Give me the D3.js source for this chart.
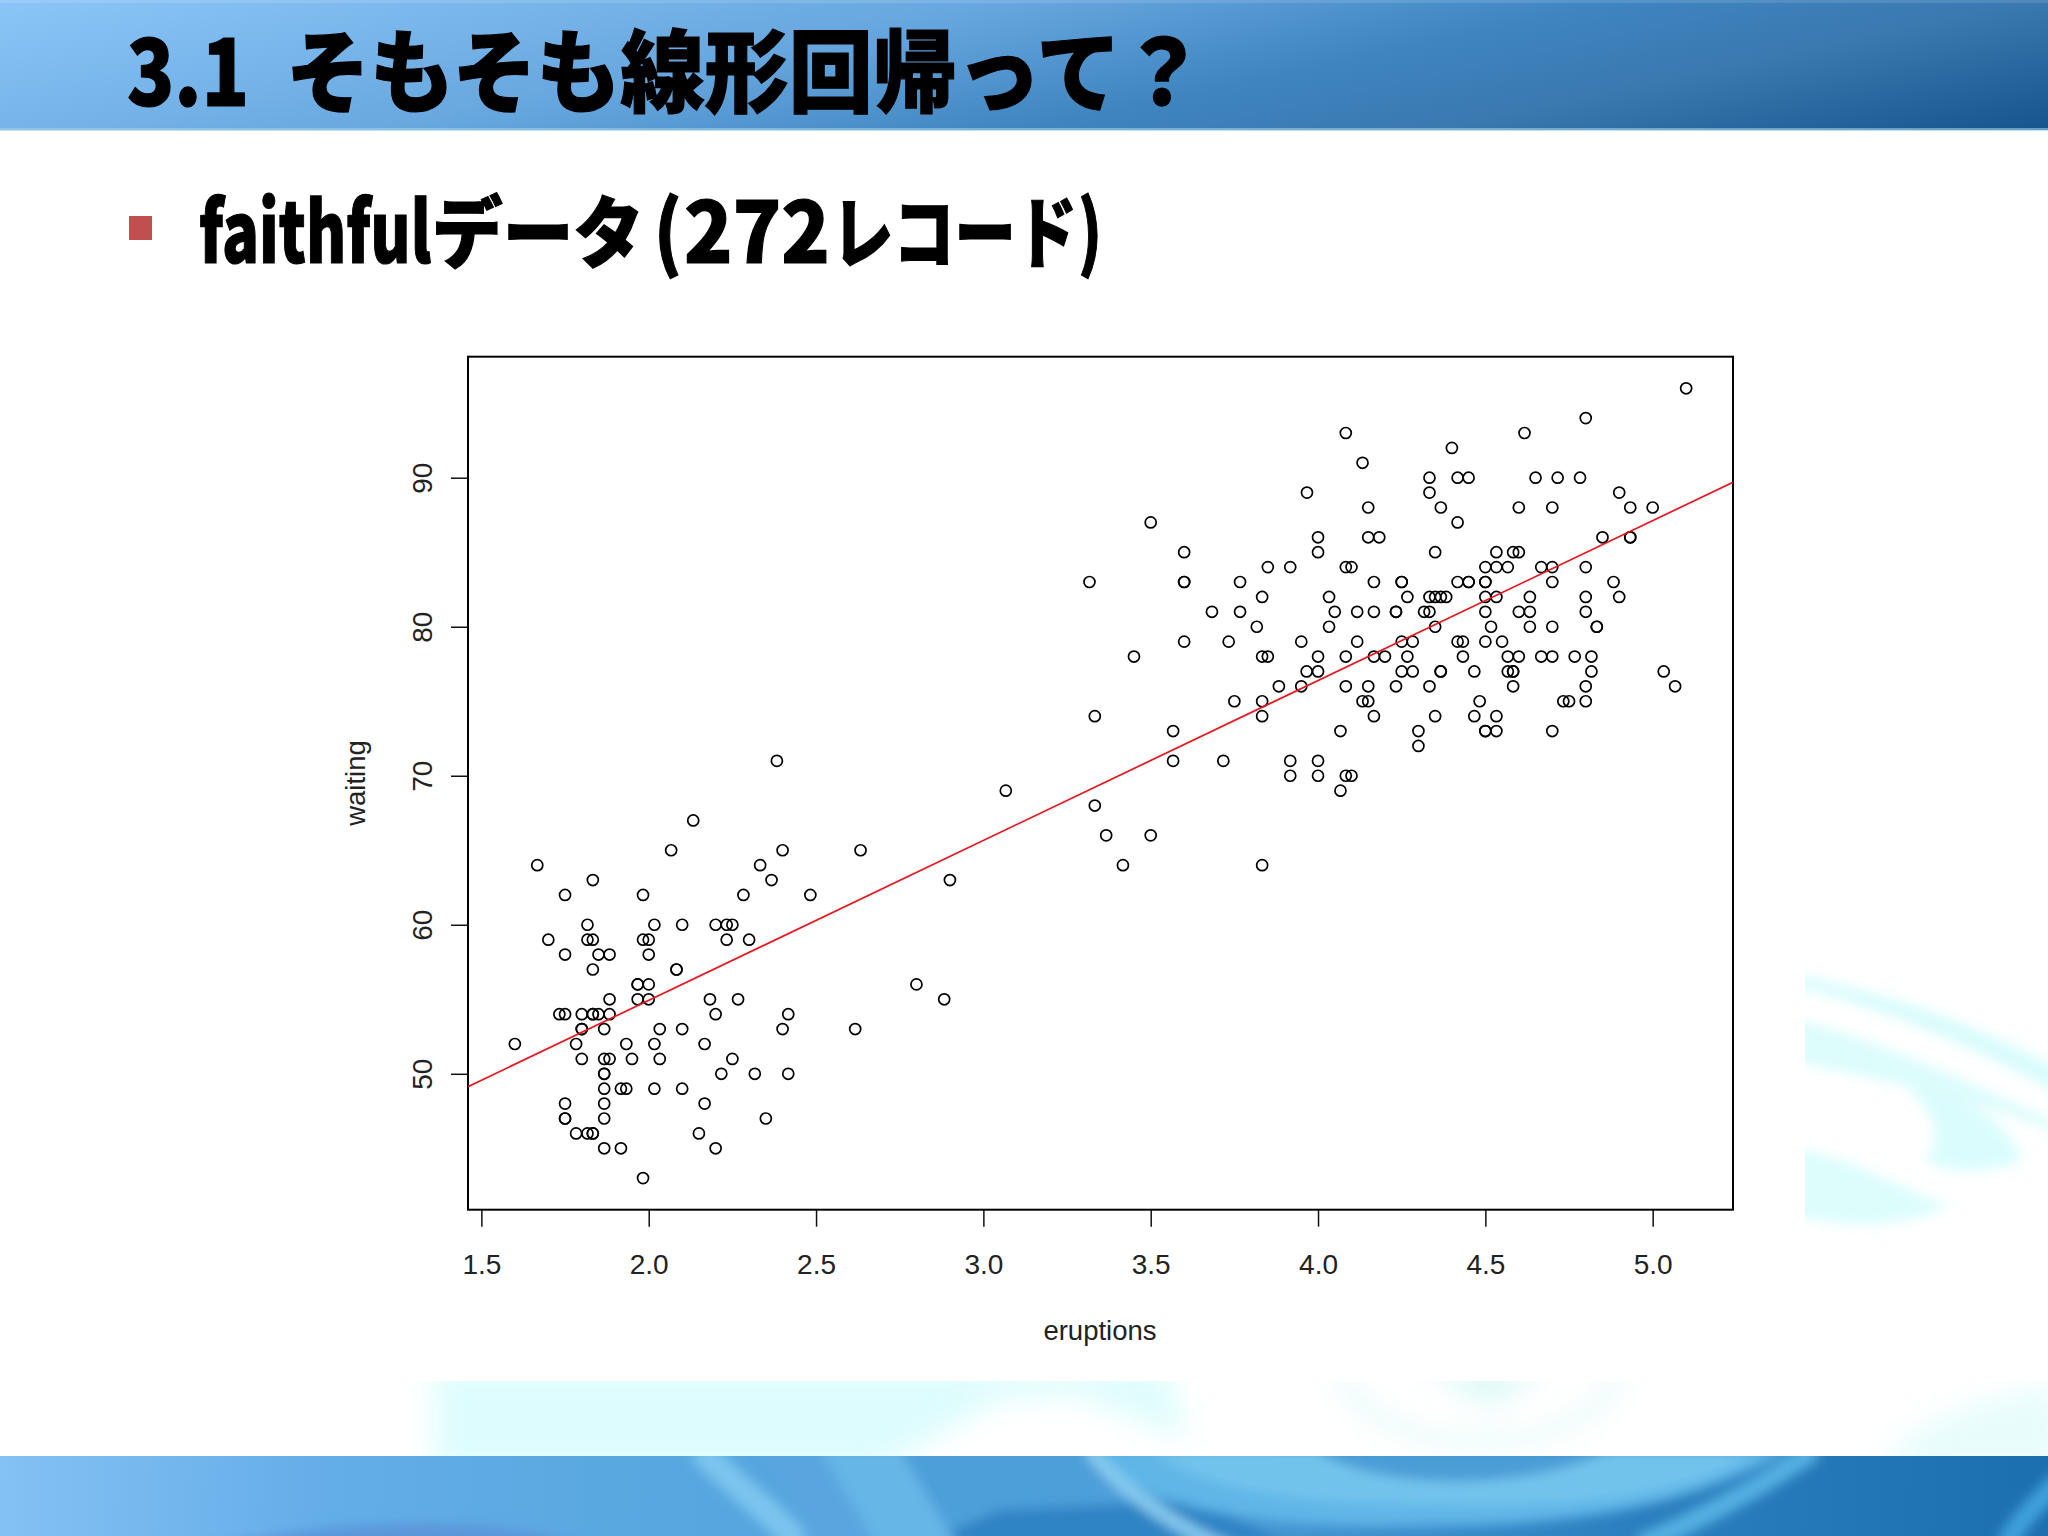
<!DOCTYPE html>
<html lang="ja">
<head>
  <meta charset="utf-8" />
  <title>faithful</title>
  <style>
    html, body { margin: 0; padding: 0; background: #fff; }
    svg { display: block; }
    .slide-text { font-family: "Noto Sans CJK JP", sans-serif; font-weight: 900; fill: #000; stroke: #000; stroke-width: 1.2px; }
    .axis text, .axis-label { font-family: "Liberation Sans", Arial, sans-serif; fill: #222; }
  </style>
</head>
<body>
<script src="https://cdn.jsdelivr.net/npm/d3@7"></script>
<script>
  const eruptions = [3.600,1.800,3.333,2.283,4.533,2.883,4.700,3.600,1.950,4.350,1.833,3.917,4.200,1.750,4.700,2.167,1.750,4.800,1.600,4.250,1.800,1.750,3.450,3.067,4.533,3.600,1.967,4.083,3.850,4.433,4.300,4.467,3.367,4.033,3.833,2.017,1.867,4.833,1.833,4.783,4.350,1.883,4.567,1.750,4.533,3.317,3.833,2.100,4.633,2.000,4.800,4.716,1.833,4.833,1.733,4.883,3.717,1.667,4.567,4.317,2.233,4.500,1.750,4.800,1.817,4.400,4.167,4.700,2.067,4.700,4.033,1.967,4.500,4.000,1.983,5.067,2.017,4.567,3.883,3.600,4.133,4.333,4.100,2.633,4.067,4.933,3.950,4.517,2.167,4.000,2.200,4.333,1.867,4.817,1.833,4.300,4.667,3.750,1.867,4.900,2.483,4.367,2.100,4.500,4.050,1.867,4.700,1.783,4.850,3.683,4.733,2.300,4.900,4.417,1.700,4.633,2.317,4.600,1.817,4.417,2.617,4.067,4.250,1.967,4.600,3.767,1.917,4.500,2.267,4.650,1.867,4.167,2.800,4.333,1.833,4.383,1.883,4.933,2.033,3.733,4.233,2.233,4.533,4.817,4.333,1.983,4.633,2.017,5.100,1.800,5.033,4.000,2.400,4.600,3.567,4.000,4.500,4.083,1.800,3.967,2.200,4.150,2.000,3.833,3.500,4.583,2.367,5.000,1.933,4.617,1.917,2.083,4.583,3.333,4.167,4.333,4.500,2.417,4.000,4.167,1.883,4.583,4.250,3.767,2.033,4.433,4.083,1.833,4.417,2.183,4.800,1.833,4.800,4.100,3.966,4.233,3.500,4.366,2.250,4.667,2.100,4.350,4.133,1.867,4.600,1.783,4.367,3.850,1.933,4.500,2.383,4.700,1.867,3.833,3.417,4.233,2.400,4.800,2.000,4.150,1.867,4.267,1.750,4.483,4.000,4.117,4.083,4.267,3.917,4.550,4.083,2.417,4.183,2.217,4.450,1.883,1.850,4.283,3.950,2.333,4.150,2.350,4.933,2.900,4.583,3.833,2.083,4.367,2.133,4.350,2.200,4.450,3.567,4.500,4.150,3.817,3.917,4.450,2.000,4.283,4.767,4.533,1.850,4.250,1.983,2.250,4.750,4.117,2.150,4.417,1.817,4.467];
  const waiting = [79,54,74,62,85,55,88,85,51,85,54,84,78,47,83,52,62,84,52,79,51,47,78,69,74,83,55,76,78,79,73,77,66,80,74,52,48,80,59,90,80,58,84,58,73,83,64,53,82,59,75,90,54,80,54,83,71,64,77,81,59,84,48,82,60,92,78,78,65,73,82,56,79,71,62,76,60,78,76,83,75,82,70,65,73,88,76,80,48,86,60,90,50,78,63,72,84,75,51,82,62,88,49,83,81,47,84,52,86,81,75,59,89,79,59,81,50,85,59,87,53,69,77,56,88,81,45,82,55,90,45,83,56,89,46,82,51,86,53,79,81,60,82,77,76,59,80,49,96,53,77,77,65,81,71,70,81,93,53,89,45,86,58,78,66,76,63,88,52,93,49,57,77,68,81,81,73,50,85,74,55,77,83,83,51,78,84,46,83,55,81,57,76,84,77,81,87,77,51,78,60,82,91,53,78,46,77,84,49,83,71,80,49,75,64,76,53,94,55,76,50,82,54,75,78,79,78,78,70,79,70,54,86,50,90,54,54,77,79,64,75,47,86,63,85,82,57,82,67,74,54,83,73,73,88,80,71,83,56,79,78,84,58,83,43,60,75,81,46,90,46,74];
  const xTicks = [1.5, 2.0, 2.5, 3.0, 3.5, 4.0, 4.5, 5.0];
  const yTicks = [50, 60, 70, 80, 90];
  const xDomain = [1.46, 5.24];
  const yDomain = [40.88, 98.12];
  const lineIntercept = 33.47;
  const lineSlope = 10.73;

  const width = 2048;
  const height = 1536;
  const plot = { left: 468, right: 1733, top: 356.7, bottom: 1209.7 };

  const svg = d3.select("body").append("svg")
    .attr("width", width)
    .attr("height", height);

  const defs = svg.append("defs");

  // slide band colours run mostly left to right, but drop fast with y
  const grad = defs.append("linearGradient")
    .attr("id", "band")
    .attr("gradientUnits", "userSpaceOnUse");
  grad.attr("x1", 0).attr("y1", 0).attr("x2", 119.5).attr("y2", 550);
  [[0, "#8cc6f8"], [0.39, "#66a6de"], [0.61, "#3f85c0"], [0.77, "#3a78b0"], [1, "#15548d"]]
    .forEach(s => grad.append("stop").attr("offset", s[0]).attr("stop-color", s[1]));

  const footGrad = defs.append("linearGradient")
    .attr("id", "footband")
    .attr("gradientUnits", "userSpaceOnUse")
    .attr("x1", 0).attr("y1", 1456).attr("x2", 2048).attr("y2", 1536);
  [[0, "#84c1f4"], [0.16, "#64ade8"], [0.3, "#5aa8e0"], [0.55, "#4f9fd8"], [0.8, "#2a7fbe"], [1, "#1c6fae"]]
    .forEach(s => footGrad.append("stop").attr("offset", s[0]).attr("stop-color", s[1]));

  function blurFilter(id, dev) {
    defs.append("filter").attr("id", id)
      .attr("filterUnits", "userSpaceOnUse")
      .attr("x", 0).attr("y", 0).attr("width", width).attr("height", height)
      .append("feGaussianBlur").attr("stdDeviation", dev);
  }
  blurFilter("soft", 6);
  blurFilter("softer", 14);

  defs.append("clipPath").attr("id", "clipRight")
    .append("rect").attr("x", 1805).attr("y", 900).attr("width", 243).attr("height", 350);
  defs.append("clipPath").attr("id", "clipBottom")
    .append("rect").attr("x", 380).attr("y", 1381).attr("width", 1668).attr("height", 76);
  defs.append("clipPath").attr("id", "clipFoot")
    .append("rect").attr("x", 0).attr("y", 1456).attr("width", width).attr("height", 80);
  defs.append("clipPath").attr("id", "clipPlot")
    .append("rect").attr("x", plot.left).attr("y", plot.top)
    .attr("width", plot.right - plot.left).attr("height", plot.bottom - plot.top);

  // right ripple
  const ripple = svg.append("g").attr("clip-path", "url(#clipRight)").attr("filter", "url(#soft)").attr("opacity", 0.75);
  ripple.append("path").attr("d", "M1790,974 C1880,990 1970,1020 2060,1070 L2060,1095 C1980,1050 1890,1010 1790,985 Z").attr("fill", "#cdfbfa");
  ripple.append("path").attr("d", "M1790,1018 C1880,1040 1980,1085 2060,1125 L2060,1135 C1980,1100 1900,1085 1790,1060 Z").attr("fill", "#d2fbfb");
  ripple.append("path").attr("d", "M1900,1080 C1960,1090 2010,1120 2022,1160 C1990,1175 1950,1175 1925,1160 C1950,1130 1920,1100 1900,1080 Z").attr("fill", "#d0fcfc");
  ripple.append("path").attr("d", "M1790,1148 C1850,1155 1890,1185 1950,1205 C1910,1225 1860,1232 1790,1215 Z").attr("fill", "#d2fcfc");

  // bottom ripple, pale
  const pale = svg.append("g").attr("clip-path", "url(#clipBottom)").attr("filter", "url(#softer)").attr("opacity", 0.85);
  pale.append("path").attr("d", "M435,1370 L1165,1370 L1190,1440 L1075,1395 L1000,1400 L880,1470 L435,1470 Z")
    .attr("fill", "#d8fcfd");
  pale.append("path").attr("d", "M1340,1375 C1365,1430 1440,1445 1490,1440 C1560,1440 1600,1410 1620,1375")
    .attr("fill", "none").attr("stroke", "#dcfaf5").attr("stroke-width", 12);
  pale.append("path").attr("d", "M1420,1370 L1550,1370 L1490,1405 Z").attr("fill", "#d4f8f5");
  pale.append("path").attr("d", "M1880,1470 C1900,1430 1960,1400 2060,1385 L2060,1470 Z").attr("fill", "#e4fcfc");

  // top band
  svg.append("rect").attr("width", width).attr("height", 130).attr("fill", "url(#band)");
  svg.append("rect").attr("width", width).attr("height", 3).attr("fill", "#fff").attr("opacity", 0.12);
  svg.append("rect").attr("y", 128).attr("width", width).attr("height", 3).attr("fill", "#9fd0e8").attr("opacity", 0.6);

  // bottom band
  svg.append("rect").attr("y", 1456).attr("width", width).attr("height", 80).attr("fill", "url(#footband)");
  const foot = svg.append("g").attr("clip-path", "url(#clipFoot)").append("g").attr("filter", "url(#soft)");
  foot.append("path").attr("d", "M200,1550 C350,1515 500,1515 600,1550 Z").attr("fill", "#5a96d8");
  foot.append("path").attr("d", "M700,1450 C740,1490 780,1520 800,1545").attr("fill", "none").attr("stroke", "#7ac4ee").attr("stroke-width", 26);
  foot.append("path").attr("d", "M760,1450 L840,1450 L880,1545 L810,1545 Z").attr("fill", "#5aa5df");
  foot.append("path").attr("d", "M890,1450 L1090,1450 C1130,1500 1220,1530 1290,1550 L940,1550 Z").attr("fill", "#4e9fd9");
  foot.append("path").attr("d", "M920,1545 L1290,1545 L1200,1500 L1000,1510 Z").attr("fill", "#2f84c5");
  foot.append("path").attr("d", "M820,1450 L900,1450 L960,1550 L880,1550 Z").attr("fill", "#66b6e8");
  foot.append("path").attr("d", "M1090,1450 C1130,1505 1250,1530 1430,1526 C1620,1526 1720,1490 1790,1450 Z").attr("fill", "#5fb6e7");
  foot.append("path").attr("d", "M1090,1450 C1120,1490 1180,1530 1230,1550").attr("fill", "none").attr("stroke", "#86cbef").attr("stroke-width", 14);
  foot.append("path").attr("d", "M1150,1450 L1760,1450 C1700,1490 1600,1510 1430,1505 C1300,1505 1200,1490 1150,1450 Z").attr("fill", "#72c3ec");
  foot.append("path").attr("d", "M1315,1450 C1370,1488 1520,1495 1610,1450 Z").attr("fill", "#4c9dd6");
  foot.append("path").attr("d", "M1640,1545 C1720,1510 1770,1480 1815,1450").attr("fill", "none").attr("stroke", "#55b0e2").attr("stroke-width", 20);
  foot.append("path").attr("d", "M2060,1480 C2040,1500 2020,1520 2005,1545").attr("fill", "none").attr("stroke", "#3fa0dc").attr("stroke-width", 20);

  // slide text, each run squeezed to its width in the reference
  function slideText(str, x0, y0, size, len) {
    const t = svg.append("text").attr("class", "slide-text")
      .attr("font-size", size)
      .text(str);
    const sx = len / t.node().getComputedTextLength();
    t.attr("transform", `translate(${x0},${y0}) scale(${sx},1)`);
  }
  slideText("3.1", 127, 106, 91, 122);
  slideText("そもそも線形回帰って？", 286, 105, 90, 919);

  svg.append("rect").attr("x", 129).attr("y", 216).attr("width", 23).attr("height", 24).attr("fill", "#c0504d");

  slideText("faithful", 199, 263, 84, 232);
  slideText("データ", 432, 262, 78, 212);
  slideText("(", 654, 262, 82, 28);
  slideText("272", 684, 263, 84, 146);
  slideText("レコード", 832, 262, 78, 245);
  slideText(")", 1078, 262, 82, 24);

  // plot
  const x = d3.scaleLinear().domain(xDomain).range([plot.left, plot.right]);
  const y = d3.scaleLinear().domain(yDomain).range([plot.bottom, plot.top]);

  svg.append("rect")
    .attr("x", plot.left).attr("y", plot.top)
    .attr("width", plot.right - plot.left).attr("height", plot.bottom - plot.top)
    .attr("fill", "#fff").attr("stroke", "#000").attr("stroke-width", 2);

  const xAxis = svg.append("g").attr("class", "axis")
    .attr("transform", `translate(0,${plot.bottom})`)
    .call(d3.axisBottom(x).tickValues(xTicks).tickFormat(d3.format(".1f")).tickSize(17).tickPadding(27));
  xAxis.select(".domain").remove();
  xAxis.selectAll("line").attr("stroke", "#111").attr("stroke-width", 1.5);
  xAxis.selectAll("text").attr("font-size", 28).attr("font-family", null);

  const yAxis = svg.append("g").attr("class", "axis")
    .attr("transform", `translate(${plot.left},0)`)
    .call(d3.axisLeft(y).tickValues(yTicks).tickFormat(d3.format("d")).tickSize(17));
  yAxis.select(".domain").remove();
  yAxis.selectAll("line").attr("stroke", "#111").attr("stroke-width", 1.5);
  yAxis.selectAll("text")
    .attr("font-size", 28).attr("font-family", null)
    .attr("x", 0).attr("dy", null)
    .attr("text-anchor", "middle")
    .attr("transform", "translate(-36,0) rotate(-90)");

  svg.append("text").attr("class", "axis-label")
    .attr("text-anchor", "middle").attr("font-size", 27.5)
    .attr("x", 1100).attr("y", 1340)
    .text("eruptions");

  svg.append("text").attr("class", "axis-label")
    .attr("text-anchor", "middle").attr("font-size", 27.5)
    .attr("transform", "translate(365,783) rotate(-90)")
    .text("waiting");

  const points = d3.zip(eruptions, waiting);

  svg.append("g").selectAll("circle")
    .data(points)
    .join("circle")
    .attr("cx", d => x(d[0]))
    .attr("cy", d => y(d[1]))
    .attr("r", 5.5)
    .attr("fill", "none")
    .attr("stroke", "#000")
    .attr("stroke-width", 1.7);

  const fit = d3.line()
    .x(d => x(d))
    .y(d => y(lineIntercept + lineSlope * d));

  svg.append("path")
    .datum(xDomain)
    .attr("clip-path", "url(#clipPlot)")
    .attr("d", fit)
    .attr("fill", "none")
    .attr("stroke", "#e8141e")
    .attr("stroke-width", 1.7);
</script>
</body>
</html>
